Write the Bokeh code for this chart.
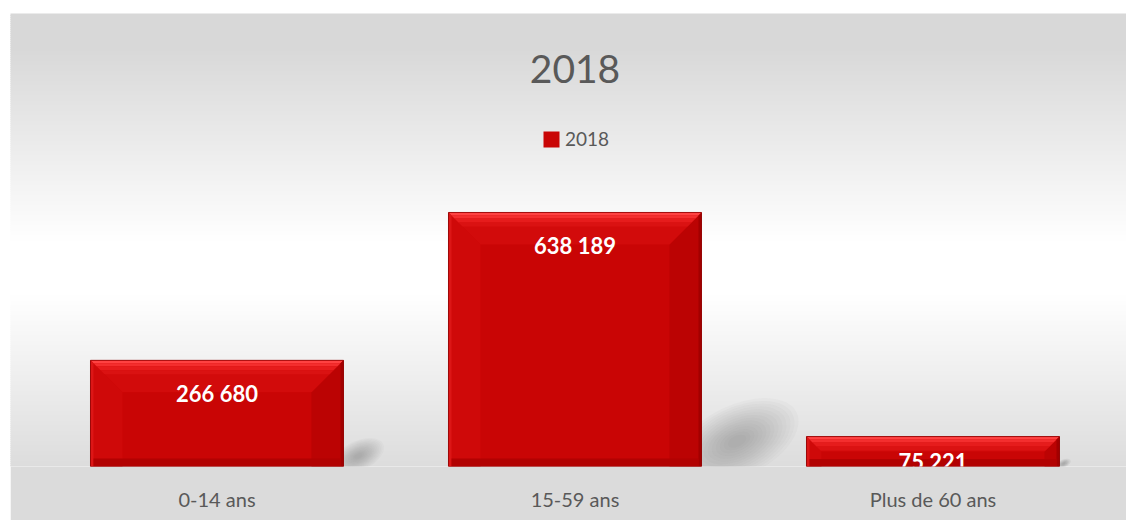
import numpy as np
from bokeh.plotting import figure
from bokeh.models import Range1d, LinearAxis, FixedTicker, Legend, LegendItem, Label, Spacer
from bokeh.layouts import column, row
from bokeh.core.properties import value
from bokeh.embed import file_html
from bokeh.resources import INLINE

# ---------------- data ----------------
categories = ["0-14 ans", "15-59 ans", "Plus de 60 ans"]
values_2018 = [266680, 638189, 75221]
value_labels = ["266 680", "638 189", "75 221"]
series_name = "2018"
title_text = "2018"

# ---------------- layout constants ----------------
W, H = 1116, 507
FRAME_H = 453
BOTTOM = H - FRAME_H
X_START, X_END = -0.5768, 2.5405
Y_END = 1_138_000
PX_X = (X_END - X_START) / W      # data units per pixel (x)
PX_Y = Y_END / FRAME_H            # data units per pixel (y)
BAR_W = 0.7067
FONT = "Lato"
GREY_TXT = "#595959"


def grad(py):
    d = abs(py - 268.0)
    t = min(max((d - 25) / 195.0, 0), 1)
    return int(round(255 - 39 * t))


g_b = 219
p = figure(width=W, height=H, x_range=Range1d(X_START, X_END), y_range=Range1d(0, Y_END),
           output_backend="svg", toolbar_location=None, x_axis_type=None, y_axis_type=None,
           min_border_left=0, min_border_right=0, min_border_top=0, min_border_bottom=BOTTOM,
           border_fill_color="#%02x%02x%02x" % (g_b, g_b, g_b),
           background_fill_color="#ffffff", outline_line_color=None)

# ---------------- background gradient (grey - white - grey) ----------------
rows = np.arange(0, FRAME_H, 2)
bt, bb, bc = [], [], []
for r in rows:
    g = grad(13 + r + 1)
    bc.append("#%02x%02x%02x" % (g, g, g))
    bt.append(Y_END - r * PX_Y + 0.5 * PX_Y)
    bb.append(Y_END - (r + 2) * PX_Y - 0.5 * PX_Y)
p.quad(left=X_START - 1, right=X_END + 1, top=bt, bottom=bb, fill_color=bc, line_color=None)

xs_c = list(range(len(categories)))

# ---------------- soft shadows ----------------
for i, v in enumerate(values_2018):
    hpx = v / PX_Y
    x1 = i + BAR_W / 2
    cx = x1 + 0.14 * hpx * PX_X
    cy = 0.10 * hpx * PX_Y
    for s in np.linspace(1.0, 0.15, 14):
        p.ellipse(x=cx, y=cy, width=0.52 * hpx * PX_X * s, height=0.28 * hpx * PX_Y * s,
                  angle=0.45, fill_color="#666666", fill_alpha=0.03, line_color=None)

# ---------------- bars ----------------
bars = p.vbar(x=xs_c, top=values_2018, width=BAR_W, bottom=0,
              fill_color="#c90505", line_color=None)

for i, v in enumerate(values_2018):
    x0 = i - BAR_W / 2
    x1 = i + BAR_W / 2
    hpx = v / PX_Y
    b = min(32, hpx / 2)
    bx, by = b * PX_X, b * PX_Y
    top = v
    # left and right bevels
    p.patch([x0, x0 + bx, x0 + bx, x0], [top, top - by, 0, 0], fill_color="#cf0909", line_color=None)
    p.patch([x1, x1 - bx, x1 - bx, x1], [top, top - by, 0, 0], fill_color="#bb0303", line_color=None)
    # top bevel
    p.patch([x0, x1, x1 - bx, x0 + bx], [top, top, top - by, top - by], fill_color="#d20b0b", line_color=None)
    # bright top band
    band = [(0, 3, "#ff4242"), (3, 6, "#f42e2e"), (6, 10, "#e61c1c"), (10, 14, "#da1212")]
    for a, c, col in band:
        if c > b:
            c = b
        if a >= c:
            continue
        p.patch([x0 + a * PX_X, x1 - a * PX_X, x1 - c * PX_X, x0 + c * PX_X],
                [top - a * PX_Y, top - a * PX_Y, top - c * PX_Y, top - c * PX_Y],
                fill_color=col, line_color=None)
    # side edges
    p.patch([x0, x0 + 3 * PX_X, x0 + 3 * PX_X, x0], [top, top - 3 * PX_Y, 0, 0], fill_color="#dc1616", line_color=None)
    p.patch([x1, x1 - 3 * PX_X, x1 - 3 * PX_X, x1], [top, top - 3 * PX_Y, 0, 0], fill_color="#a20000", line_color=None)
    # darker bottom
    bh = min(8, hpx / 4)
    p.patch([x0 + 3 * PX_X, x1 - 3 * PX_X, x1 - 3 * PX_X, x0 + 3 * PX_X],
            [0, 0, bh * PX_Y, bh * PX_Y], fill_color="#b20202", line_color=None)

p.vbar(x=xs_c, top=values_2018, width=BAR_W, bottom=0, fill_color=None,
       line_color="#8e0000", line_width=1, line_alpha=0.8)

# ---------------- value labels ----------------
lab_y = [v - min(20, (v / PX_Y) / 2 - 4) * PX_Y for v in values_2018]
p.text(x=xs_c, y=lab_y, text=value_labels, text_align="center", text_baseline="top",
       text_font=value(FONT), text_font_style="bold", text_font_size="22px", text_color="#ffffff")

# ---------------- title ----------------
p.add_layout(Label(x=1, y=(466 - 68) * PX_Y, text=title_text, text_align="center",
                   text_baseline="middle", text_font=FONT, text_font_size="39px",
                   text_color=GREY_TXT))

# ---------------- legend ----------------
legend = Legend(items=[LegendItem(label=series_name, renderers=[bars])],
                location=(531, 316), orientation="horizontal",
                glyph_width=20, glyph_height=20, label_standoff=4,
                label_text_font=FONT, label_text_font_size="19px", label_text_color=GREY_TXT,
                background_fill_alpha=0, border_line_color=None, padding=0, margin=0)
p.add_layout(legend)

# ---------------- x axis ----------------
xaxis = LinearAxis(ticker=FixedTicker(ticks=xs_c),
                   major_label_overrides={i: c for i, c in enumerate(categories)},
                   axis_line_color=None, major_tick_line_color=None, minor_tick_line_color=None,
                   major_tick_out=0, major_label_standoff=20,
                   major_label_text_font=FONT, major_label_text_font_size="20px",
                   major_label_text_color=GREY_TXT)
p.add_layout(xaxis, "below")

layout = row(Spacer(width=10, height=H + 13), column(Spacer(width=W, height=13), p))
open("out.html", "w").write(file_html(layout, INLINE))
